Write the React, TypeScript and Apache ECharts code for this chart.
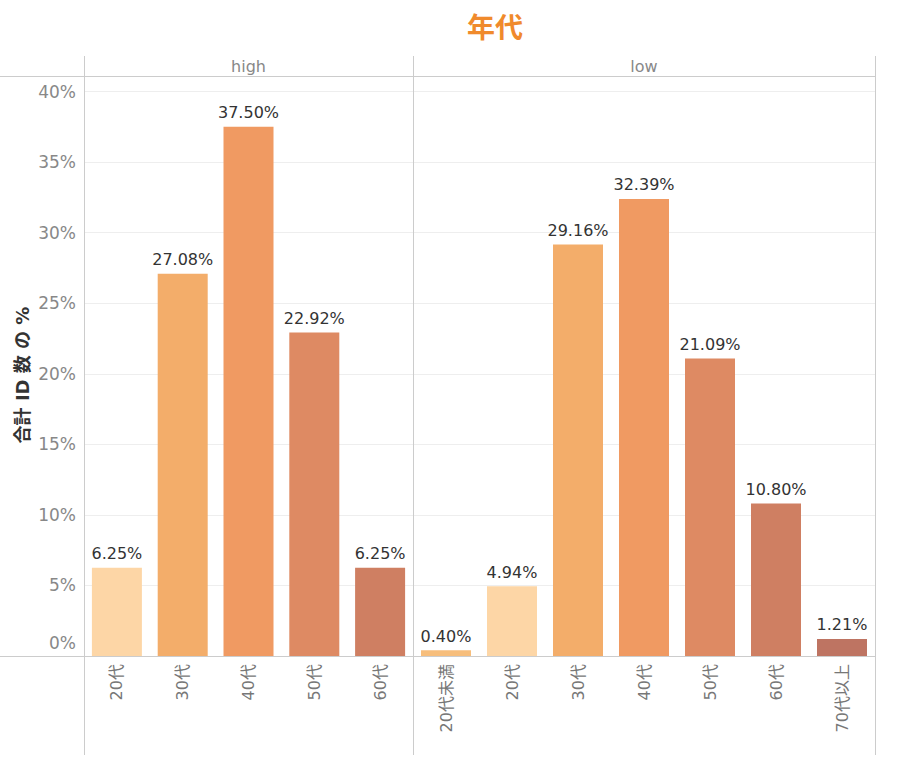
import React, { useEffect, useRef } from "react";
import * as echarts from "echarts";

const TITLE = "年代";
const PANELS = ["high", "low"];
const highCategories = ["20代", "30代", "40代", "50代", "60代"];
const highValues = [6.25, 27.08, 37.5, 22.92, 6.25];
const lowCategories = ["20代未満", "20代", "30代", "40代", "50代", "60代", "70代以上"];
const lowValues = [0.4, 4.94, 29.16, 32.39, 21.09, 10.8, 1.21];
const yTicks = [0, 5, 10, 15, 20, 25, 30, 35, 40];
const yAxisTitle = "合計 ID 数 の %";

const COLORS: Record<string, string> = {
  "20代未満": "#F7BE7C",
  "20代": "#FDD6A6",
  "30代": "#F3AD6A",
  "40代": "#F09A62",
  "50代": "#DE8A63",
  "60代": "#CF7F62",
  "70代以上": "#BE7462",
};

const FONT = "'DejaVu Sans', 'Noto Sans CJK JP', sans-serif";

export default function App() {
  const ref = useRef<HTMLDivElement>(null);
  useEffect(() => {
    if (!ref.current) return;
    const chart = echarts.init(ref.current, null, { renderer: "svg" });
    const top = 76;
    const bottomY = 656;
    const gridHeight = bottomY - top;
    const yMax = 41.1;

    const mkX = (cats: string[], idx: number) => ({
      type: "category" as const,
      gridIndex: idx,
      data: cats,
      axisLine: { show: false },
      axisTick: { show: false },
      axisLabel: {
        rotate: 90,
        fontSize: 16,
        color: "#777",
        fontFamily: FONT,
        margin: 8,
        interval: 0,
      },
    });
    const mkY = (idx: number, showLabel: boolean) => ({
      type: "value" as const,
      gridIndex: idx,
      min: 0,
      max: yMax,
      interval: 5,
      axisLine: { show: false },
      axisTick: { show: false },
      splitLine: { show: true, lineStyle: { color: "#eeeeee", width: 1 } },
      axisLabel: {
        show: showLabel,
        fontSize: 17,
        color: "#888",
        fontFamily: FONT,
        margin: 8,
        formatter: (v: number) =>
          v === 0 ? "{z|0%}" : yTicks.includes(v) ? `${v}%` : "",
        rich: {
          z: { fontSize: 17, color: "#888", fontFamily: FONT, padding: [0, 0, 26, 0] },
        },
      },
    });
    const mkSeries = (cats: string[], vals: number[], idx: number) => ({
      type: "bar" as const,
      xAxisIndex: idx,
      yAxisIndex: idx,
      barWidth: 50,
      data: vals.map((v, i) => ({ value: v, itemStyle: { color: COLORS[cats[i]] } })),
      label: {
        show: true,
        position: "top" as const,
        distance: 6,
        fontSize: 16,
        color: "#333",
        fontFamily: FONT,
        formatter: (p: any) => `${Number(p.value).toFixed(2)}%`,
      },
    });

    const lineStyle = { stroke: "#cccccc", lineWidth: 1 };
    chart.setOption({
      animation: false,
      backgroundColor: "#ffffff",
      grid: [
        { left: 84, top, width: 329, height: gridHeight },
        { left: 413, top, width: 462, height: gridHeight },
      ],
      xAxis: [mkX(highCategories, 0), mkX(lowCategories, 1)],
      yAxis: [mkY(0, true), mkY(1, false)],
      series: [mkSeries(highCategories, highValues, 0), mkSeries(lowCategories, lowValues, 1)],
      graphic: [
        {
          type: "text",
          x: 495,
          y: 28,
          style: { text: TITLE, fontSize: 28, fontWeight: "bold", fill: "#F08A2C", fontFamily: FONT, align: "center", verticalAlign: "middle" },
        },
        {
          type: "text",
          x: 248.5,
          y: 66,
          style: { text: PANELS[0], fontSize: 16, fill: "#888", fontFamily: FONT, align: "center", verticalAlign: "middle" },
        },
        {
          type: "text",
          x: 644,
          y: 66,
          style: { text: PANELS[1], fontSize: 16, fill: "#888", fontFamily: FONT, align: "center", verticalAlign: "middle" },
        },
        {
          type: "text",
          x: 22,
          y: 375,
          rotation: Math.PI / 2,
          style: { text: yAxisTitle, fontSize: 18, fontWeight: "bold", fill: "#333", fontFamily: FONT, align: "center", verticalAlign: "middle" },
        },
        { type: "line", shape: { x1: 84.5, y1: 56, x2: 84.5, y2: 755 }, style: lineStyle, z: 10 },
        { type: "line", shape: { x1: 413.5, y1: 56, x2: 413.5, y2: 755 }, style: lineStyle, z: 10 },
        { type: "line", shape: { x1: 875.5, y1: 56, x2: 875.5, y2: 755 }, style: lineStyle, z: 10 },
        { type: "line", shape: { x1: 0, y1: 76.5, x2: 876, y2: 76.5 }, style: lineStyle, z: 10 },
        { type: "line", shape: { x1: 0, y1: 656.5, x2: 876, y2: 656.5 }, style: lineStyle, z: 10 },
      ],
    });
    return () => chart.dispose();
  }, []);
  return (
    <div
      ref={ref}
      style={{ position: "fixed", left: 0, top: 0, width: 904, height: 759 }}
    />
  );
}
